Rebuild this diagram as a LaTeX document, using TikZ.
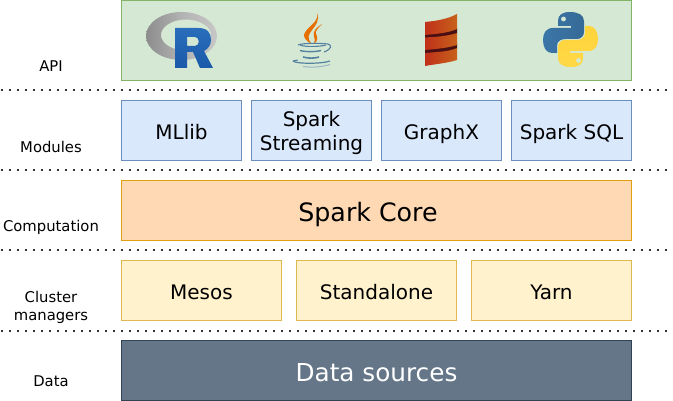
\documentclass[tikz,border=0pt]{standalone}
\usepackage{fontspec}
\setmainfont{DejaVu Sans}
\definecolor{gf}{HTML}{D5E8D4}\definecolor{gd}{HTML}{82B366}
\definecolor{bf}{HTML}{DAE8FC}\definecolor{bd}{HTML}{6C8EBF}
\definecolor{of}{HTML}{FFD9B3}\definecolor{od}{HTML}{E2A010}
\definecolor{yf}{HTML}{FFF2CC}\definecolor{yd}{HTML}{E0B850}
\definecolor{df}{HTML}{647687}\definecolor{dd}{HTML}{314354}
\tikzset{
 box/.style={draw,line width=1.2pt,minimum height=60pt,inner sep=0pt,outer sep=0pt,anchor=north west,align=center,text=black},
 modbox/.style={box,fill=bf,draw=bd,minimum width=120pt,font=\fontsize{20}{24}\selectfont},
 clubox/.style={box,fill=yf,draw=yd,minimum width=160pt,font=\fontsize{20}{24}\selectfont},
 onel/.style={text height=18pt,text depth=0pt},
 big/.style={font=\fontsize{25.3}{30}\selectfont,text height=22pt,text depth=0pt},
 sidelabel/.style={inner sep=0pt,align=center,text=black,font=\fontsize{14.8}{18}\selectfont},
 sep/.style={line width=2pt,draw=black!80,dash pattern=on 2pt off 6pt},
}
\begin{document}
\begin{tikzpicture}[x=1pt,y=-1pt]
\useasboundingbox (0,0) rectangle (673,401);
\node[box,fill=gf,draw=gd,minimum width=510pt,minimum height=80pt] (api) at (121.5,0.5) {};
\node[modbox,onel] (mllib) at (121.5,100.5) {MLlib};
\node[modbox] (stream) at (251.5,100.5) {\rule{0pt}{20.5pt}Spark\\Streaming};
\node[modbox,onel] (graphx) at (381.5,100.5) {GraphX};
\node[modbox,onel] (sql) at (511.5,100.5) {Spark SQL};
\node[box,fill=of,draw=od,minimum width=510pt,big,text height=23pt] (core) at (121.5,180.5) {Spark Core\kern17pt};
\node[clubox,onel] (mesos) at (121.5,260.5) {Mesos};
\node[clubox,onel] (standalone) at (296.5,260.5) {Standalone};
\node[clubox,onel] (yarn) at (471.5,260.5) {Yarn};
\node[box,fill=df,draw=dd,minimum width=510pt,text=white,big,font=\fontsize{24.7}{30}\selectfont] (data) at (121.5,340.5) {Data sources};
\node[sidelabel] (lapi) at (51,66) {API};
\node[sidelabel] (lmod) at (51,147) {Modules};
\node[sidelabel] (lcomp) at (51,227.5) {Computation};
\node[sidelabel] (lclu) at (51,307.5) {Cluster\\managers};
\node[sidelabel] (ldata) at (51,381.5) {Data};
\foreach \i/\y in {1/90.5,2/170.5,3/250.5,4/330.5}{
 \coordinate (a\i) at (1,\y); \coordinate (b\i) at (670,\y);
 \draw[sep] (a\i) -- (b\i);
}
% R logo
\path[even odd rule,left color=black!45,right color=black!22,middle color=black!30] (181.5,36) ellipse [x radius=35.5,y radius=24] (186,35) ellipse [x radius=25,y radius=15.5];
\definecolor{ra}{HTML}{2A6EBB}\definecolor{rb}{HTML}{1A5AA8}
\path[even odd rule,top color=ra,bottom color=rb]
 (175,28) -- (198,28) .. controls (208,28) and (211,33) .. (211,40) .. controls (211,45) and (208,49) .. (204,51) -- (213,68) -- (200,68) -- (193,52) -- (187,52) -- (187,68) -- (175,68) -- cycle
 (187,37) -- (187,46) -- (195,46) .. controls (200,46) and (200,37) .. (195,37) -- cycle;
% Java logo
\definecolor{jo}{HTML}{E76F00}\definecolor{jb}{HTML}{5382A1}
\fill[jo] (317,13) .. controls (320,22) and (305,28) .. (304,35) .. controls (304,38) and (306,41) .. (312,44) .. controls (306,38) and (309,34) .. (312,30) .. controls (316,25) and (320,20) .. (317,13) -- cycle;
\fill[jo] (322,24) .. controls (317,27) and (312,32) .. (314,36) .. controls (315,39) and (315,41) .. (314,44) .. controls (319,40) and (317,36) .. (316,34) .. controls (315,31) and (318,28) .. (322,24) -- cycle;
\draw[jb,line width=1.1pt] (298,45) .. controls (302,43) and (320,43) .. (328,44) .. controls (332,45) and (332,49) .. (324,52);
\draw[jb,line width=1.1pt] (300,44.5) .. controls (300,47) and (320,47) .. (326,45);
\draw[jb,line width=1.4pt] (300,50.5) .. controls (305,52) and (316,52) .. (321,50.5);
\draw[jb,line width=1.6pt] (303,57) .. controls (308,58.5) and (315,58.5) .. (319,57);
\draw[jb,line width=1.2pt] (293,61) .. controls (296,64) and (322,64) .. (330,61);
\draw[jb,line width=1pt] (298,60) -- (293,61);
\draw[jb!60,line width=1pt] (303,66.5) .. controls (310,67.5) and (320,67.5) .. (330,64.5);
% Scala logo
\definecolor{sa}{HTML}{C0301A}\definecolor{sb}{HTML}{8E1F12}\definecolor{sc}{HTML}{C8621A}\definecolor{sd}{HTML}{4A0F12}
\fill[sd] (425,33) .. controls (436,33) and (448,30) .. (457,28) -- (457,34) .. controls (448,37) and (436,37) .. (425,38) -- cycle;
\fill[sd] (425,48) .. controls (436,48) and (448,46) .. (457,43) -- (457,49) .. controls (448,52) and (436,53) .. (425,54) -- cycle;
\shade[left color=sa,middle color=sb,right color=sc] (425,22) .. controls (436,21) and (448,19) .. (457,14) -- (457,29) .. controls (448,33) and (436,34) .. (425,35) -- cycle;
\shade[left color=sa,middle color=sb,right color=sc] (425,37.5) .. controls (436,37) and (448,36) .. (457,33) -- (457,45) .. controls (448,48) and (436,49) .. (425,50) -- cycle;
\shade[left color=sa,middle color=sb,right color=sc] (425,53) .. controls (436,52) and (448,52) .. (457,48) -- (457,60) .. controls (448,63) and (436,64) .. (425,66) -- cycle;
% Python logo
\definecolor{pb}{HTML}{3A76A8}\definecolor{pbb}{HTML}{366A96}\definecolor{py}{HTML}{FFD43B}\definecolor{pyy}{HTML}{FFE873}
\shade[left color=pb,right color=pbb] (570,12) .. controls (562,12) and (558,15) .. (558,21) -- (558,26) -- (571,26) -- (571,28) -- (553,28) .. controls (546,28) and (543,33) .. (543,40) .. controls (543,47) and (546,53) .. (552,53) -- (557,53) -- (557,46) .. controls (557,41) and (561,39) .. (566,39) -- (577,39) .. controls (581,39) and (584,36) .. (584,32) -- (584,21) .. controls (584,15) and (578,12) .. (570,12) -- cycle;
\shade[top color=py,bottom color=py!80!pyy] (571,67) .. controls (579,67) and (583,64) .. (583,58) -- (583,53) -- (570,53) -- (570,51) -- (588,51) .. controls (595,51) and (598,46) .. (598,39) .. controls (598,32) and (595,26) .. (589,26) -- (585,26) -- (585,33) .. controls (585,38) and (581,40) .. (576,40) -- (565,40) .. controls (561,40) and (558,43) .. (558,47) -- (558,58) .. controls (558,64) and (563,67) .. (571,67) -- cycle;
\fill[gf] (563.5,19) circle (2.4);
\fill[gf] (578.5,60.5) circle (2.4);
\end{tikzpicture}
\end{document}
